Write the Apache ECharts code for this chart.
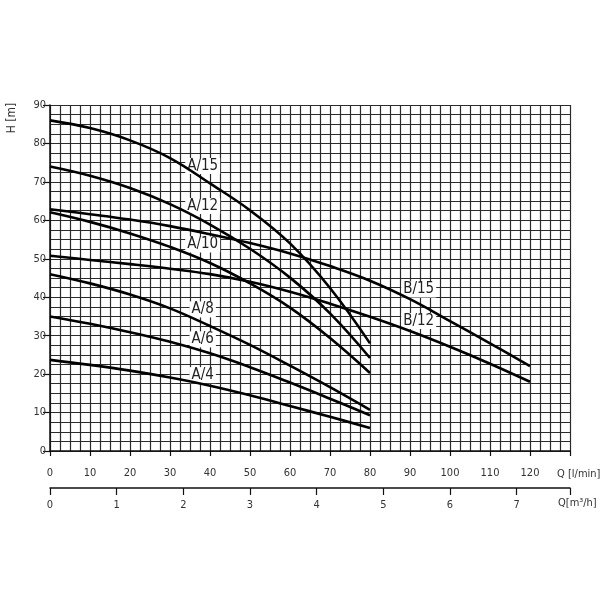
<!DOCTYPE html>
<html><head><meta charset="utf-8">
<script src="https://cdn.jsdelivr.net/npm/echarts@6/dist/echarts.min.js"></script>
<style>html,body{margin:0;padding:0;background:#fff}#c{width:600px;height:600px}</style>
</head><body><div id="c"></div>
<script>
// Flow rates (l/min)
const flowA = [0, 10, 20, 30, 40, 50, 60, 70, 80];
const flowB = [0, 10, 20, 30, 40, 50, 60, 70, 80, 90, 100, 110, 120];
// Heads (m)
const headA15 = [86.0, 84.0, 80.8, 76.2, 69.6, 62.6, 54.0, 42.4, 28.0];
const headA12 = [74.0, 71.6, 68.4, 64.2, 58.9, 52.6, 45.1, 35.8, 24.2];
const headA10 = [62.1, 59.6, 56.6, 53.1, 48.9, 43.6, 37.3, 29.4, 20.3];
const headA8  = [46.0, 43.6, 40.7, 37.1, 32.5, 27.6, 22.2, 16.6, 10.7];
const headA6  = [35.0, 33.1, 30.9, 28.4, 25.4, 21.8, 17.8, 13.6, 9.3];
const headA4  = [23.7, 22.4, 20.9, 19.1, 17.0, 14.5, 11.7, 8.9, 6.0];
const headB15 = [62.9, 61.6, 60.2, 58.5, 56.4, 54.1, 51.4, 48.1, 44.3, 39.5, 33.8, 28.0, 22.1];
const headB12 = [50.8, 49.7, 48.6, 47.4, 46.0, 44.0, 41.4, 38.3, 34.9, 31.2, 27.1, 22.7, 18.0];
// Curve labels
const labelNames = ['A/15', 'A/12', 'A/10', 'A/8', 'A/6', 'A/4', 'B/15', 'B/12'];
const labelQ = [38.3, 38.3, 38.3, 38.3, 38.3, 38.3, 92.3, 92.3];
const labelH = [74.0, 63.6, 53.6, 36.7, 28.9, 19.6, 41.9, 33.7];
// Axis ranges
const qLminMax = 130, qM3hMax = 7.8, hMax = 90;
const qLminLabelMax = 120;

const FONT = "'DejaVu Sans Condensed', 'Liberation Sans Narrow', 'DejaVu Sans', sans-serif";
const GRIDC = '#2b2b2b';
const curves = [
  ['A/15', flowA, headA15], ['A/12', flowA, headA12], ['A/10', flowA, headA10],
  ['A/8', flowA, headA8], ['A/6', flowA, headA6], ['A/4', flowA, headA4],
  ['B/15', flowB, headB15], ['B/12', flowB, headB12]
];

const chart = echarts.init(document.getElementById('c'));
const series = curves.map(([n, q, h]) => ({
  name: n, type: 'line', smooth: 0.4, symbol: 'none', xAxisIndex: 0, yAxisIndex: 0,
  lineStyle: { color: '#000', width: 2.6 }, z: 4, silent: true,
  data: q.map((v, i) => [v, h[i]])
}));
series.push({
  type: 'scatter', xAxisIndex: 0, yAxisIndex: 0, symbol: 'rect', symbolSize: 1, z: 2, silent: true,
  itemStyle: { color: '#ffffff', opacity: 1 },
  data: labelNames.map((n, i) => ({ name: n, value: [labelQ[i], labelH[i]] })),
  label: { show: true, position: [0, 0], align: 'center', verticalAlign: 'middle', formatter: '{b}',
    fontFamily: FONT, fontSize: 15, color: '#222', opacity: 1, backgroundColor: '#ffffff', padding: [1, 2, 0, 2] }
});

chart.setOption({
  animation: false,
  backgroundColor: '#fff',
  grid: { left: 50, right: 30, top: 105, bottom: 149, containLabel: false, outerBoundsMode: 'none' },
  xAxis: [{
    type: 'value', min: 0, max: qLminMax, interval: 10, position: 'bottom',
    axisLine: { show: true, lineStyle: { color: '#111', width: 1.5 } },
    axisTick: { show: true, length: 5, lineStyle: { color: '#111', width: 1.2 } },
    axisLabel: { margin: 17, fontFamily: FONT, fontSize: 11, color: '#333',
      formatter: v => (v % 10 === 0 && v <= qLminLabelMax) ? String(v) : '' },
    splitLine: { show: true, lineStyle: { color: GRIDC, width: 1.2 } },
    minorTick: { show: false, splitNumber: 4 },
    minorSplitLine: { show: true, lineStyle: { color: GRIDC, width: 1.2 } },
    name: 'Q [l/min]', nameLocation: 'end', nameGap: -13,
    nameTextStyle: { fontFamily: FONT, fontSize: 11, color: '#333', align: 'left', verticalAlign: 'top', padding: [18, 0, 0, 0] }
  }, {
    type: 'value', min: 0, max: qM3hMax, interval: 1, position: 'bottom', offset: 37,
    axisLine: { show: true, lineStyle: { color: '#111', width: 1.5 } },
    axisTick: { show: true, length: 7, lineStyle: { color: '#111', width: 1.2 } },
    axisLabel: { margin: 12, fontFamily: FONT, fontSize: 11, color: '#333',
      formatter: v => Number.isInteger(v) ? String(v) : '' },
    splitLine: { show: false },
    name: 'Q[m³/h]', nameLocation: 'end', nameGap: -12,
    nameTextStyle: { fontFamily: FONT, fontSize: 11, color: '#333', align: 'left', verticalAlign: 'top', padding: [10, 0, 0, 0] }
  }],
  yAxis: [{
    type: 'value', min: 0, max: hMax, interval: 10,
    axisLine: { show: true, lineStyle: { color: '#111', width: 1.5 } },
    axisTick: { show: true, length: 7, lineStyle: { color: '#111', width: 1.2 } },
    axisLabel: { margin: 4, fontFamily: FONT, fontSize: 11, color: '#333' },
    splitLine: { show: true, lineStyle: { color: GRIDC, width: 1.2 } },
    minorTick: { show: false, splitNumber: 4 },
    minorSplitLine: { show: true, lineStyle: { color: GRIDC, width: 1.2 } }
  }],
  graphic: [{
    type: 'text', x: 12, y: 118, rotation: Math.PI / 2,
    style: { text: 'H [m]', fontFamily: FONT, fontSize: 12, fill: '#333', textAlign: 'center', textVerticalAlign: 'middle' }
  }],
  series: series
});
</script>
</body></html>
